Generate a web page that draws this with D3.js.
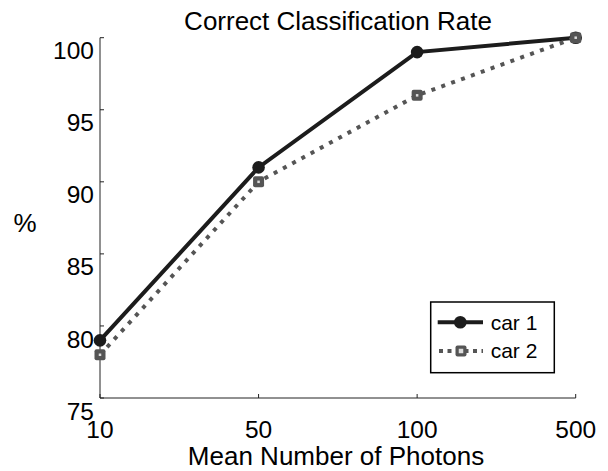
<!DOCTYPE html>
<html>
<head>
<meta charset="utf-8">
<script src="https://cdn.jsdelivr.net/npm/d3@7"></script>
<style>
  body { margin: 0; background: #fff; }
  text { font-family: "Liberation Sans", Arial, sans-serif; fill: #000; }
</style>
</head>
<body>
<div id="chart"></div>
<script>
const photons = ["10", "50", "100", "500"]
const car1 = [79, 91, 99, 100]
const car2 = [78, 90, 96, 100]
const y_ticks = [75, 80, 85, 90, 95, 100]

const width = 608
const height = 471
const plot_left = 100, plot_right = 575.7, plot_top = 37.7, plot_bottom = 398

const svg = d3.select("#chart")
  .append("svg")
  .attr("width", width)
  .attr("height", height)

const x = d3.scalePoint().domain(photons).range([plot_left, plot_right])
const y = d3.scaleLinear().domain([75, 100]).range([plot_bottom, plot_top])

// axes: left and bottom only, ticks pointing inwards
const axis_color = "#222"
svg.append("path")
  .attr("d", `M${plot_left},${plot_top}V${plot_bottom}H${plot_right}`)
  .attr("fill", "none")
  .attr("stroke", axis_color)
  .attr("stroke-width", 1)

svg.selectAll(".ytick")
  .data(y_ticks)
  .join("line")
  .attr("x1", plot_left).attr("x2", plot_left + 4)
  .attr("y1", d => y(d)).attr("y2", d => y(d))
  .attr("stroke", axis_color)

svg.selectAll(".xtick")
  .data(photons)
  .join("line")
  .attr("x1", d => x(d)).attr("x2", d => x(d))
  .attr("y1", plot_bottom).attr("y2", plot_bottom - 4)
  .attr("stroke", axis_color)

svg.selectAll(".ylabel")
  .data(y_ticks)
  .join("text")
  .attr("x", plot_left - 6)
  .attr("y", d => y(d) + 13)
  .attr("dy", "0.35em")
  .attr("text-anchor", "end")
  .style("font-size", "24.5px")
  .text(d => d)

svg.selectAll(".xlabel")
  .data(photons)
  .join("text")
  .attr("x", d => x(d))
  .attr("y", plot_bottom + 31)
  .attr("dy", "0.35em")
  .attr("text-anchor", "middle")
  .style("font-size", "24.5px")
  .text(d => d)

svg.append("text")
  .attr("x", 338).attr("y", 30)
  .attr("text-anchor", "middle")
  .style("font-size", "26px")
  .text("Correct Classification Rate")

svg.append("text")
  .attr("x", 336).attr("y", 465)
  .attr("text-anchor", "middle")
  .style("font-size", "26px")
  .text("Mean Number of Photons")

svg.append("text")
  .attr("x", 25).attr("y", 223)
  .attr("dy", "0.35em")
  .attr("text-anchor", "middle")
  .style("font-size", "26px")
  .text("%")

const line = d3.line()
  .x((d, i) => x(photons[i]))
  .y(d => y(d))

// car 1: solid black with round markers
svg.append("path")
  .datum(car1)
  .attr("d", line)
  .attr("fill", "none")
  .attr("stroke", "#1c1c1c")
  .attr("stroke-width", 4)

svg.selectAll(".dot1")
  .data(car1)
  .join("circle")
  .attr("cx", (d, i) => x(photons[i]))
  .attr("cy", d => y(d))
  .attr("r", 6.3)
  .attr("fill", "#1c1c1c")

// car 2: dotted gray with square markers
const c2 = "#555"
svg.append("path")
  .datum(car2)
  .attr("d", line)
  .attr("fill", "none")
  .attr("stroke", c2)
  .attr("stroke-width", 4)
  .attr("stroke-dasharray", "4,6.5")

const square = (g, cx, cy, s, inner) => {
  g.append("rect")
    .attr("x", cx - s / 2).attr("y", cy - s / 2)
    .attr("width", s).attr("height", s)
    .attr("rx", 2)
    .attr("fill", c2)
  g.append("rect")
    .attr("x", cx - inner / 2).attr("y", cy - inner / 2)
    .attr("width", inner).attr("height", inner)
    .attr("fill", "#ddd")
}

car2.forEach((d, i) => square(svg, x(photons[i]), y(d), 11, 2.5))

// legend
const lg = svg.append("g")
lg.append("rect")
  .attr("x", 430.7).attr("y", 302)
  .attr("width", 123.6).attr("height", 70.7)
  .attr("fill", "#fff")
  .attr("stroke", "#000")
  .attr("stroke-width", 1.5)

lg.append("line")
  .attr("x1", 437.7).attr("x2", 483)
  .attr("y1", 322.3).attr("y2", 322.3)
  .attr("stroke", "#1c1c1c")
  .attr("stroke-width", 4)
lg.append("circle")
  .attr("cx", 460.3).attr("cy", 322.3)
  .attr("r", 6.3)
  .attr("fill", "#1c1c1c")

lg.append("line")
  .attr("x1", 439).attr("x2", 483)
  .attr("y1", 351).attr("y2", 351)
  .attr("stroke", c2)
  .attr("stroke-width", 4)
  .attr("stroke-dasharray", "4,4.5")
square(lg, 461, 351, 11, 4.5)

lg.append("text")
  .attr("x", 490.7).attr("y", 322.3)
  .attr("dy", "0.35em")
  .style("font-size", "21px")
  .text("car 1")
lg.append("text")
  .attr("x", 490.7).attr("y", 351)
  .attr("dy", "0.35em")
  .style("font-size", "21px")
  .text("car 2")
</script>
</body>
</html>
